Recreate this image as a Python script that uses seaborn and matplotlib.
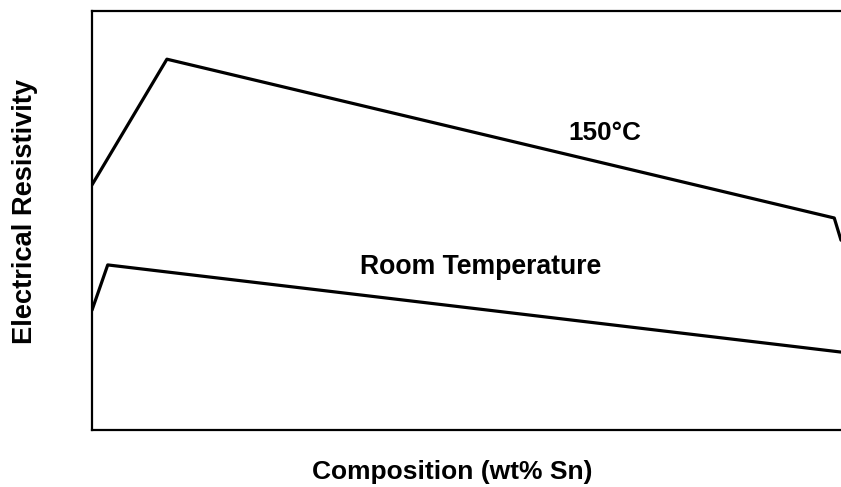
import matplotlib
matplotlib.use("Agg")
import matplotlib.pyplot as plt
import seaborn as sns
import pandas as pd

# Data (schematic, x in wt% Sn, y arbitrary resistivity units)
x_150 = [0.0, 10.0, 99.1, 100.0]
y_150 = [58.5, 88.5, 50.6, 45.3]
x_room = [0.0, 2.1, 100.0]
y_room = [28.6, 39.4, 18.6]
series_labels = ["150°C", "Room Temperature"]

sns.set_theme(style="white")
plt.rcParams['font.family'] = ['Liberation Sans', 'DejaVu Sans']
plt.rcParams['text.color'] = 'black'

fig = plt.figure(figsize=(8.41, 4.87), dpi=100)
ax = fig.add_axes([92/841, (487-430)/487, 1.0 - 92/841, (430-11)/487])

df = pd.concat([
    pd.DataFrame({"x": x_150, "y": y_150, "s": series_labels[0]}),
    pd.DataFrame({"x": x_room, "y": y_room, "s": series_labels[1]}),
])
sns.lineplot(data=df, x="x", y="y", units="s", estimator=None, color="black",
             linewidth=2.3, ax=ax, sort=False)

ax.set_xlim(0, 100)
ax.set_ylim(0, 100)
ax.set_xticks([])
ax.set_yticks([])
ax.set_xlabel("")
ax.set_ylabel("")
for side in ["left", "top", "bottom"]:
    ax.spines[side].set_color("black")
    ax.spines[side].set_linewidth(1.6)
ax.spines["right"].set_visible(False)

ax.text(68.5, 70.9, series_labels[0], fontsize=18.8, fontweight="bold", ha="center",
        va="center", color="black")
ax.text(51.9, 38.9, series_labels[1], fontsize=19.2, fontweight="bold", ha="center",
        va="center", color="black")

fig.text(452/841, 1 - 472/487, "Composition (wt% Sn)", fontsize=19, fontweight="bold",
         ha="center", va="center", color="black")
fig.text(25/841, 1 - 212/487, "Electrical Resistivity", fontsize=19.6, fontweight="bold",
         ha="center", va="center", rotation=90, color="black")

fig.savefig("out.png", dpi=100)
